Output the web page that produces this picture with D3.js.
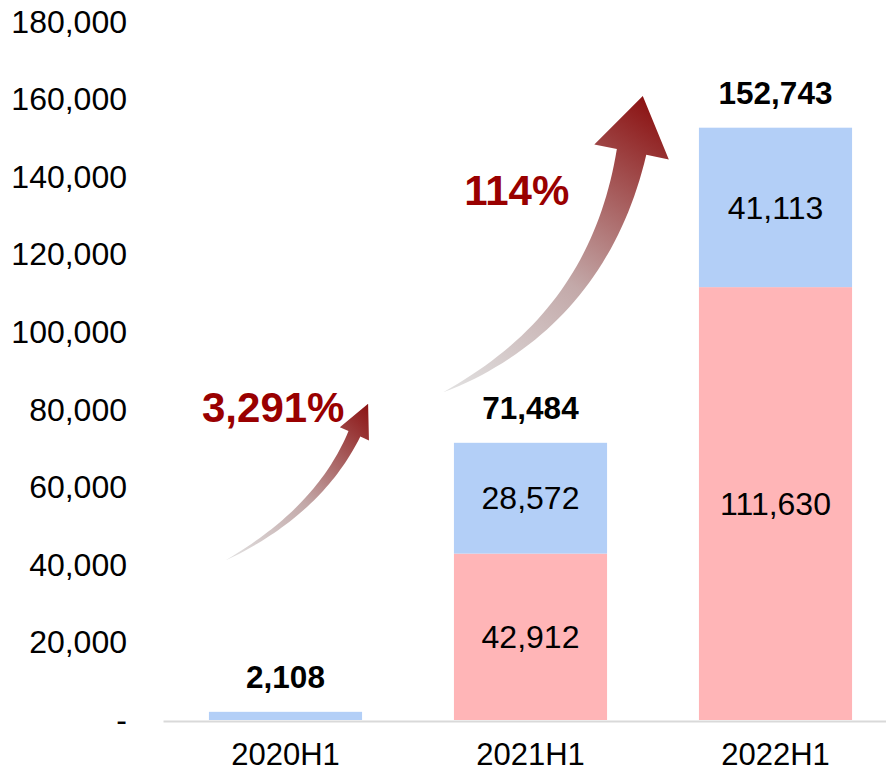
<!DOCTYPE html>
<html>
<head>
<meta charset="utf-8">
<script src="https://cdn.jsdelivr.net/npm/d3@7"></script>
<style>
  body { margin: 0; background: #fff; }
  text { font-family: "Liberation Sans", Arial, sans-serif; }
</style>
</head>
<body>
<div id="chart"></div>
<script>
// data
const categories = ["2020H1", "2021H1", "2022H1"];
const lowerValues = [0, 42912, 111630];      // pink part
const upperValues = [2108, 28572, 41113];    // blue part
const totalValues = [2108, 71484, 152743];
const yTickValues = [0, 20000, 40000, 60000, 80000, 100000, 120000, 140000, 160000, 180000];
const growthLabels = ["3,291%", "114%"];

const W = 886, H = 773;
const pink = "#ffb5b7", blue = "#b3cff7";

const svg = d3.select("#chart").append("svg")
  .attr("width", W).attr("height", H);

const x = d3.scaleBand()
  .domain(categories)
  .range([163, 898])
  .paddingInner(0.375)
  .paddingOuter(0.1875);

const y = d3.scaleLinear()
  .domain([0, 180000])
  .range([720, 22]);

// y axis (labels only)
svg.append("g")
  .attr("transform", "translate(127,0)")
  .call(d3.axisLeft(y).tickValues(yTickValues).tickSize(0).tickPadding(0)
    .tickFormat(d => d === 0 ? "-" : d3.format(",")(d)))
  .call(g => g.select(".domain").remove())
  .selectAll("text")
    .attr("font-size", 32)
    .attr("font-family", "Liberation Sans, Arial, sans-serif")
    .attr("fill", "#000");

// bars
const stacked = categories.map((c, i) => ({cat: c, lo: lowerValues[i], up: upperValues[i], total: totalValues[i]}));

svg.selectAll(".lower")
  .data(stacked)
  .join("rect")
    .attr("class", "lower")
    .attr("x", d => x(d.cat))
    .attr("width", x.bandwidth())
    .attr("y", d => y(d.lo))
    .attr("height", d => y(0) - y(d.lo))
    .attr("fill", pink);

svg.selectAll(".upper")
  .data(stacked)
  .join("rect")
    .attr("class", "upper")
    .attr("x", d => x(d.cat))
    .attr("width", x.bandwidth())
    .attr("y", d => y(d.lo + d.up))
    .attr("height", d => y(d.lo) - y(d.lo + d.up))
    .attr("fill", blue);

// x axis
svg.append("g")
  .attr("transform", "translate(0,721)")
  .call(d3.axisBottom(x).tickSize(0).tickPadding(22))
  .call(g => g.select(".domain").attr("stroke", "#d9d9d9").attr("stroke-width", 2))
  .selectAll("text")
    .attr("font-size", 31)
    .attr("font-family", "Liberation Sans, Arial, sans-serif")
    .attr("fill", "#000");

// segment labels
svg.selectAll(".loLabel")
  .data(stacked.filter(d => d.lo > 10000))
  .join("text")
    .attr("x", d => x(d.cat) + x.bandwidth() / 2)
    .attr("y", d => (y(0) + y(d.lo)) / 2)
    .attr("dy", "0.35em")
    .attr("text-anchor", "middle")
    .attr("font-size", 32)
    .text(d => d3.format(",")(d.lo));

svg.selectAll(".upLabel")
  .data(stacked.filter(d => d.up > 10000))
  .join("text")
    .attr("x", d => x(d.cat) + x.bandwidth() / 2)
    .attr("y", d => (y(d.lo) + y(d.lo + d.up)) / 2)
    .attr("dy", "0.35em")
    .attr("text-anchor", "middle")
    .attr("font-size", 32)
    .text(d => d3.format(",")(d.up));

// totals
svg.selectAll(".totLabel")
  .data(stacked)
  .join("text")
    .attr("x", d => x(d.cat) + x.bandwidth() / 2)
    .attr("y", d => y(d.total) - 24)
    .attr("text-anchor", "middle")
    .attr("font-size", 31.5)
    .attr("font-weight", "bold")
    .text(d => d3.format(",")(d.total));

// growth arrows
const defs = svg.append("defs");
const bw = x.bandwidth();

function quad(p0, c, p2, t) {
  const u = 1 - t;
  return [u*u*p0[0] + 2*u*t*c[0] + t*t*p2[0], u*u*p0[1] + 2*u*t*c[1] + t*t*p2[1]];
}
function quadTan(p0, c, p2, t) {
  const dx = 2*(1-t)*(c[0]-p0[0]) + 2*t*(p2[0]-c[0]);
  const dy = 2*(1-t)*(c[1]-p0[1]) + 2*t*(p2[1]-c[1]);
  const l = Math.hypot(dx, dy);
  return [dx/l, dy/l];
}

function drawArrow(id, p0, c, p2, shaftW, headHalf, headLen) {
  const n = 40, left = [], right = [];
  for (let i = 0; i <= n; i++) {
    const t = i / n;
    const p = quad(p0, c, p2, t), tg = quadTan(p0, c, p2, t);
    const hw = (shaftW / 2) * Math.pow(t, 0.8);
    left.push([p[0] + tg[1]*hw, p[1] - tg[0]*hw]);
    right.push([p[0] - tg[1]*hw, p[1] + tg[0]*hw]);
  }
  const tg = quadTan(p0, c, p2, 1);
  const tip = [p2[0] + tg[0]*headLen, p2[1] + tg[1]*headLen];
  const barbL = [p2[0] + tg[1]*headHalf, p2[1] - tg[0]*headHalf];
  const barbR = [p2[0] - tg[1]*headHalf, p2[1] + tg[0]*headHalf];
  const pts = left.concat([barbL, tip, barbR]).concat(right.reverse());

  const grad = defs.append("linearGradient")
    .attr("id", id)
    .attr("gradientUnits", "userSpaceOnUse")
    .attr("x1", p0[0]).attr("y1", p0[1])
    .attr("x2", tip[0]).attr("y2", tip[1]);
  grad.append("stop").attr("offset", 0).attr("stop-color", "#e2e2e2");
  grad.append("stop").attr("offset", 0.45).attr("stop-color", "#c3a9a9");
  grad.append("stop").attr("offset", 1).attr("stop-color", "#8b1212");

  svg.append("path")
    .attr("d", d3.line()(pts) + "Z")
    .attr("fill", `url(#${id})`);
}

const x0 = x(categories[0]), x1 = x(categories[1]);
drawArrow("grow1",
  [x0 + 0.11*bw, y(41200)], [x0 + 0.72*bw, y(53900)], [x0 + 0.95*bw, y(73800)],
  13, 16, 33);
drawArrow("grow2",
  [x1 - 0.07*bw, y(84500)], [x1 + 0.94*bw, y(103200)], [x1 + 1.16*bw, y(146500)],
  30, 38, 57);

svg.selectAll(".growth")
  .data(growthLabels)
  .join("text")
    .attr("x", (d, i) => i === 0 ? x0 + 0.42*bw : x1 + 0.41*bw)
    .attr("y", (d, i) => i === 0 ? y(76900) : y(132800))
    .attr("text-anchor", "middle")
    .attr("font-size", 42)
    .attr("font-weight", "bold")
    .attr("fill", "#990000")
    .text(d => d);
</script>
</body>
</html>
